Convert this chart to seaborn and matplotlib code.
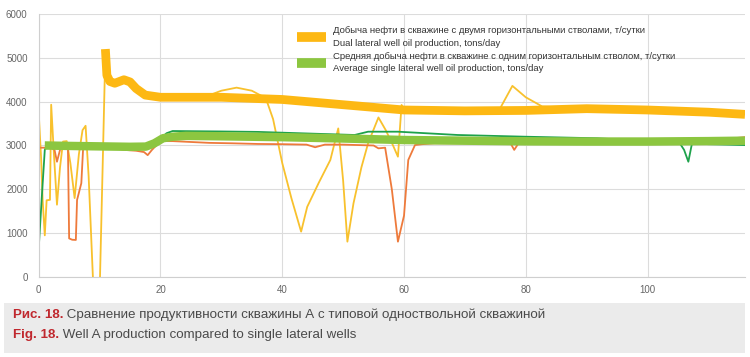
import matplotlib
matplotlib.use("Agg")
import matplotlib.pyplot as plt
import seaborn as sns
import pandas as pd
from matplotlib.patches import Rectangle
from matplotlib.lines import Line2D

# dual lateral well, raw daily values (thin yellow)
dual_t = [0, 0.4, 0.65, 1.0, 1.3, 1.85, 2.05, 2.5, 3.0, 3.5, 4.0, 4.6, 5.2, 5.9, 6.6, 7.2,
          7.7, 8.2, 8.9, 9.4, 10.0, 10.5, 10.95, 11.5, 12.5, 14.0, 16.0, 17.5, 20, 25,
          27.5, 30, 32.5, 35, 37.3, 38.5, 40, 41.5, 43.1, 44.1, 46, 47.9, 49.2, 50.0,
          50.7, 51.7, 53.0, 54.1, 55.8, 57.0, 58.2, 59.0, 59.6, 60, 65, 70, 75.6, 77.8,
          80, 82.7, 90, 100, 110, 116]
dual_v = [3750, 2700, 1750, 950, 1750, 1760, 3930, 2800, 1650, 2500, 3090, 3100, 2600, 1800,
          2800, 3350, 3450, 2300, 0, -400, -400, 2500, 5150, 4480, 4420, 4500, 4300, 4150,
          4100, 4100, 4120, 4250, 4320, 4250, 4080, 3600, 2600, 1800, 1035, 1600, 2150,
          2670, 3390, 2200, 806, 1680, 2500, 3050, 3640, 3350, 3000, 2745, 3925, 3820, 3800,
          3790, 3800, 4360, 4100, 3890, 3840, 3810, 3760, 3710]

# single lateral well #1 (thin orange)
sng1_t = [0, 1, 2, 2.6, 3.0, 3.5, 4.0, 4.8, 5.0, 5.5, 6.1, 6.3, 7.0, 7.3, 8, 10, 12, 14,
          16, 17.3, 17.9, 18.6, 20, 22, 25, 28, 31.8, 36, 40, 44, 45.4, 47, 50, 55, 55.8,
          56.9, 58, 59, 60, 60.7, 61.8, 63, 65, 70, 75, 77.5, 78.1, 78.8, 80, 90, 100,
          110, 113, 116]
sng1_v = [2950, 2950, 2950, 2900, 2630, 2900, 3000, 2970, 880, 850, 845, 1757, 2140, 2950,
          3000, 3000, 2950, 2900, 2880, 2850, 2780, 2900, 3100, 3100, 3080, 3060, 3050,
          3035, 3030, 3020, 2960, 3020, 3020, 3000, 2935, 2950, 2000, 806, 1400, 2670,
          3010, 3030, 3050, 3050, 3050, 3050, 2900, 3050, 3050, 3050, 3050, 3080, 3150,
          3190]

# single lateral well #2 (thin green)
sng2_t = [0, 0.5, 1.0, 1.5, 5, 10, 15, 18, 19, 20, 21, 22, 30, 36, 45, 51.9, 54.1, 59,
          68.8, 80, 91.7, 100, 105.3, 106.0, 106.7, 107.3, 110, 116]
sng2_v = [650, 1800, 2900, 3000, 3000, 3000, 2980, 2950, 3050, 3150, 3280, 3330, 3320,
          3310, 3270, 3240, 3315, 3315, 3240, 3200, 3165, 3100, 3050, 2900, 2630, 3050,
          3030, 3010]

# dual lateral, smoothed (thick orange)
dual_avg_t = [10.95, 11.2, 11.7, 12.5, 14.0, 15.0, 16.0, 17.5, 20, 30, 40, 50, 60, 70, 80,
              90, 100, 110, 116]
dual_avg_v = [5200, 4600, 4460, 4420, 4500, 4450, 4300, 4150, 4100, 4100, 4050, 3930, 3810,
              3790, 3800, 3840, 3810, 3760, 3710]

# average single lateral (thick green)
sng_avg_t = [1.0, 5, 10, 15, 17.6, 19, 20.4, 22, 24.2, 30, 40, 50, 60, 70, 80, 90, 100,
             110, 116]
sng_avg_v = [3000, 2990, 2980, 2970, 2975, 3050, 3165, 3200, 3220, 3210, 3190, 3160, 3125,
             3110, 3095, 3090, 3090, 3100, 3110]

label_dual = ("Добыча нефти в скважине с двумя горизонтальными стволами, т/сутки\n"
              "Dual lateral well oil production, tons/day")
label_sng = ("Средняя добыча нефти в скважине с одним горизонтальным стволом, т/сутки\n"
             "Average single lateral well oil production, tons/day")

sns.set_style("white")
plt.rcParams['font.family'] = ['Liberation Sans', 'DejaVu Sans']

fig = plt.figure(figsize=(7.5, 3.57), dpi=100)
ax = fig.add_axes([0.0516, 0.2241, 0.9417, 0.7367])

C_YEL = '#f8c12d'
C_ORA = '#ee7a3b'
C_GRN = '#1ea24b'
C_THICK_O = '#fdb813'
C_THICK_G = '#8cc640'

sns.lineplot(x=dual_t, y=dual_v, ax=ax, color=C_YEL, linewidth=1.3, sort=False)
sns.lineplot(x=sng1_t, y=sng1_v, ax=ax, color=C_ORA, linewidth=1.3, sort=False)
sns.lineplot(x=sng2_t, y=sng2_v, ax=ax, color=C_GRN, linewidth=1.3, sort=False)
sns.lineplot(x=dual_avg_t, y=dual_avg_v, ax=ax, color=C_THICK_O, linewidth=6.3,
             sort=False, solid_capstyle='butt', solid_joinstyle='round')
sns.lineplot(x=sng_avg_t, y=sng_avg_v, ax=ax, color=C_THICK_G, linewidth=6.1,
             solid_capstyle='butt', solid_joinstyle='round')

ax.set_xlim(0, 116)
ax.set_ylim(0, 6000)
ax.set_xticks([0, 20, 40, 60, 80, 100])
ax.set_yticks([0, 1000, 2000, 3000, 4000, 5000, 6000])
ax.grid(True, color='#dcdcdc', linewidth=0.8)
ax.set_axisbelow(True)
for s in ['top', 'right']:
    ax.spines[s].set_visible(False)
for s in ['left', 'bottom']:
    ax.spines[s].set_color('#cfcfcf')
    ax.spines[s].set_linewidth(0.8)
ax.tick_params(axis='both', length=0, labelsize=7, labelcolor='#666666')
ax.tick_params(axis='y', pad=8)
ax.tick_params(axis='x', pad=6)
ax.set_xlabel('')
ax.set_ylabel('')

handles = [Line2D([], [], color=C_THICK_O, linewidth=7, solid_capstyle='butt'),
           Line2D([], [], color=C_THICK_G, linewidth=7, solid_capstyle='butt')]
leg = fig.legend(handles, [label_dual, label_sng], loc='upper left',
                 bbox_to_anchor=(0.385, 0.95), frameon=False, fontsize=6.8,
                 handlelength=3.0, handletextpad=0.75, labelspacing=0.5,
                 labelcolor='#333333')
for t in leg.get_texts():
    t.set_linespacing(1.45)

# caption block
fig.patches.append(Rectangle((0.005, 0.012), 0.988, 0.14, transform=fig.transFigure,
                             facecolor='#ebebeb', edgecolor='none'))
fig.canvas.draw()
r = fig.canvas.get_renderer()
for y, red, rest in [(0.117, 'Рис. 18.', ' Сравнение продуктивности скважины А с типовой одноствольной скважиной'),
                     (0.061, 'Fig. 18.', ' Well A production compared to single lateral wells')]:
    t1 = fig.text(0.017, y, red, color='#c0282e', fontsize=9.6, fontweight='bold', va='center')
    bb = t1.get_window_extent(renderer=r)
    x2 = bb.x1 / fig.bbox.width
    fig.text(x2, y, rest, color='#4a4a4a', fontsize=9.6, va='center')

plt.savefig('out.png', dpi=100)
